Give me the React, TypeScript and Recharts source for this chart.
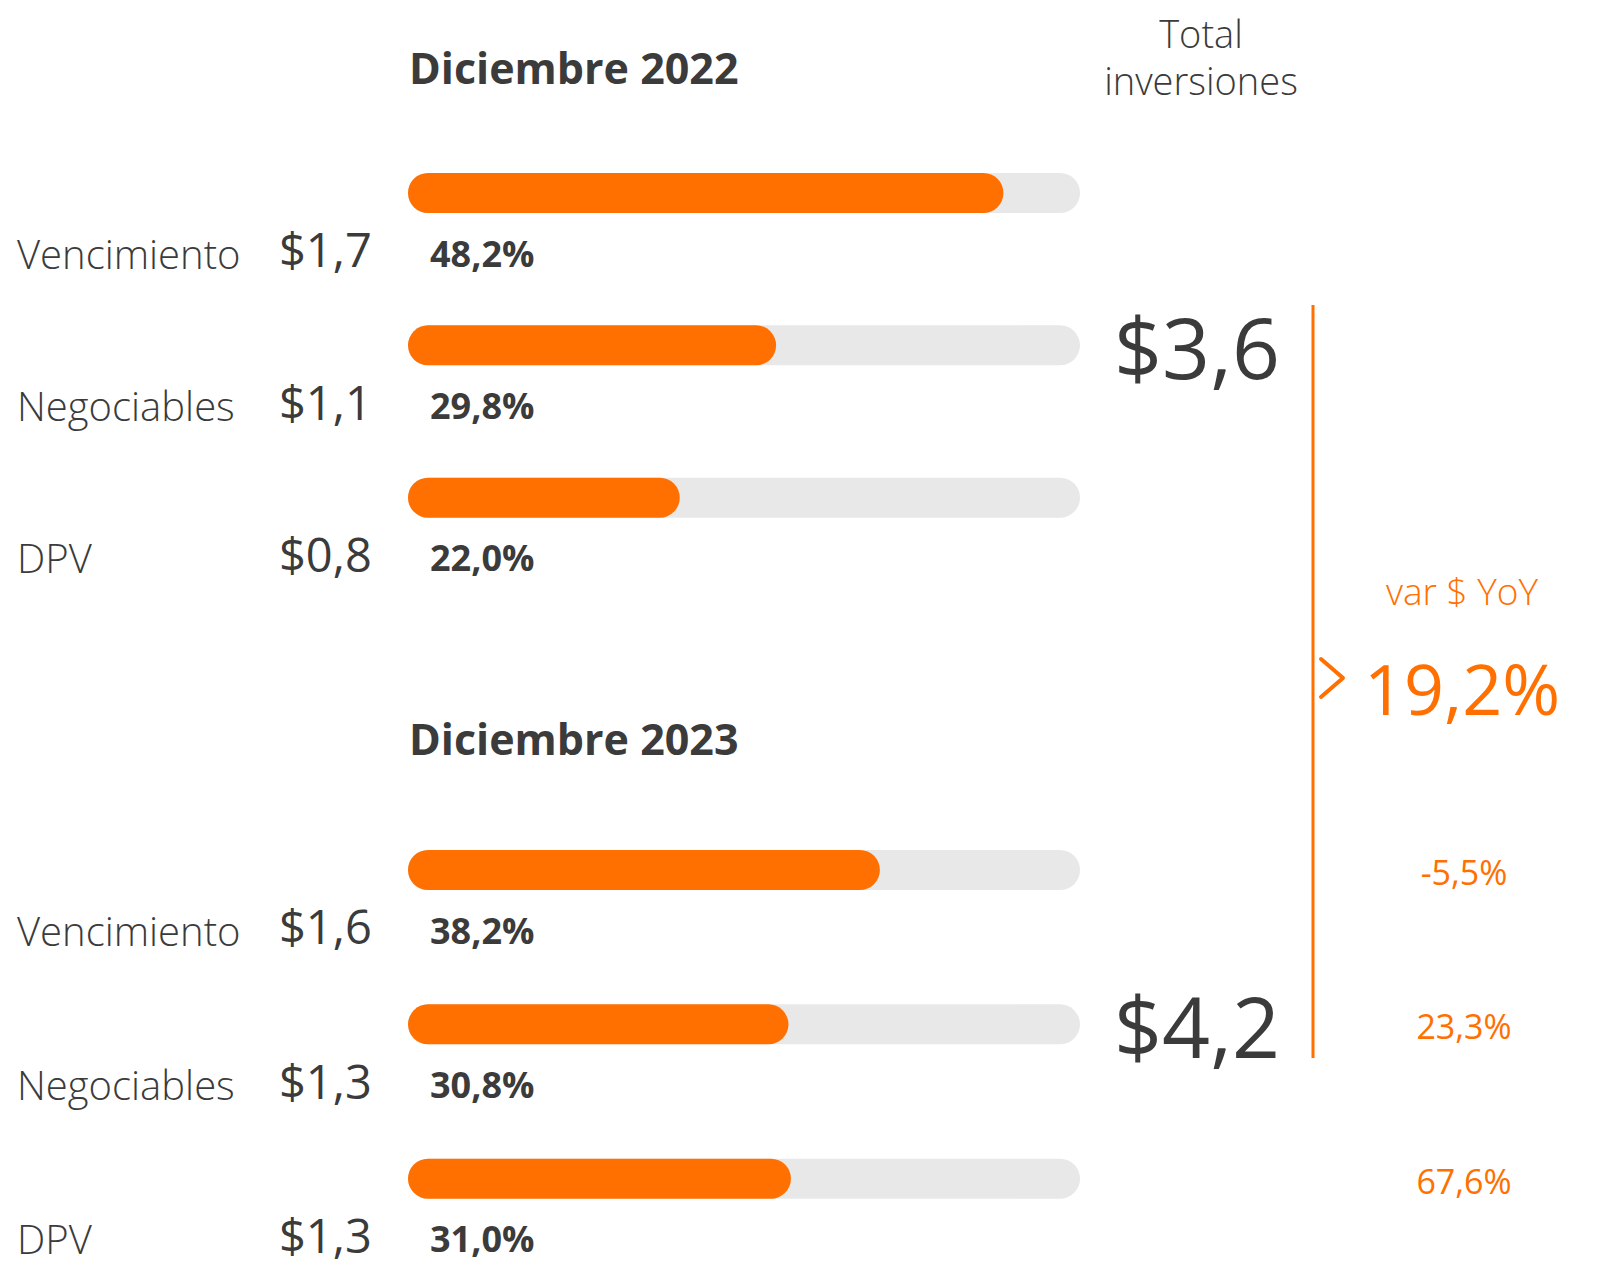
import React from 'react';
import { BarChart, Bar, XAxis, YAxis, LabelList } from 'recharts';

// Investment portfolio composition, December 2022 vs December 2023 (trillions)
const categories = ['Vencimiento', 'Negociables', 'DPV'];
const amounts2022 = [1.7, 1.1, 0.8];
const shares2022 = [48.2, 29.8, 22.0];
const amounts2023 = [1.6, 1.3, 1.3];
const shares2023 = [38.2, 30.8, 31.0];
const yoyByCategory = [-5.5, 23.3, 67.6];
const totals = [3.6, 4.2];
const totalYoy = 19.2;
const periodTitles = ['Diciembre 2022', 'Diciembre 2023'];

const ORANGE = '#FF7000';
const DARK = '#3B3B3B';
const TRACK = '#E8E8E8';
const FONT = '"Open Sans", "Noto Sans", sans-serif';
const SHARE_MAX = 54.4;
const LABEL_DROP = 60;

const fmt = (v: number) => v.toFixed(1).replace('.', ',');

const rows2022 = categories.map((name, i) => ({
  name,
  amount: amounts2022[i],
  share: shares2022[i],
}));
const rows2023 = categories.map((name, i) => ({
  name,
  amount: amounts2023[i],
  share: shares2023[i],
  yoy: yoyByCategory[i],
}));

const CategoryTick = (rows: { name: string; amount: number }[]) => (props: any) => {
  const { y, index } = props;
  const row = rows[index];
  if (!row) return null;
  return (
    <g>
      <text x={17} y={y + LABEL_DROP} dominantBaseline="central" fontFamily={FONT} fontWeight={300} fontSize={40} fill={DARK}>
        {row.name}
      </text>
      <text x={279} y={y + LABEL_DROP - 4} dominantBaseline="central" fontFamily={FONT} fontWeight={400} fontSize={47} fill={DARK}>
        {'$' + fmt(row.amount)}
      </text>
    </g>
  );
};

const ShareLabel = (props: any) => {
  const { x, y, height, value } = props;
  return (
    <text x={x + 22} y={y + height / 2 + LABEL_DROP} dominantBaseline="central" fontFamily={FONT} fontWeight={700} fontSize={36} fill={DARK}>
      {fmt(value) + '%'}
    </text>
  );
};

const YoyLabel = (props: any) => {
  const { y, height, value } = props;
  return (
    <text x={1464} y={y + height / 2 + 2} textAnchor="middle" dominantBaseline="central" fontFamily={FONT} fontWeight={400} fontSize={34} fill={ORANGE}>
      {fmt(value) + '%'}
    </text>
  );
};

function PeriodBars({ rows, height, top, bottom, withYoy }: any) {
  return (
    <BarChart
      width={1603}
      height={height}
      data={rows}
      layout="vertical"
      margin={{ top, right: 523, left: 348, bottom }}
      barCategoryGap={0}
      style={{ overflow: 'visible' }}
    >
      <XAxis type="number" domain={[0, SHARE_MAX]} hide />
      <YAxis
        type="category"
        dataKey="name"
        width={60}
        axisLine={false}
        tickLine={false}
        tick={CategoryTick(rows)}
      />
      <Bar
        dataKey="share"
        fill={ORANGE}
        barSize={40}
        radius={20}
        background={{ fill: TRACK, radius: 20 } as any}
        isAnimationActive={false}
      >
        <LabelList dataKey="share" content={ShareLabel} />
        {withYoy ? <LabelList dataKey="yoy" content={YoyLabel} /> : null}
      </Bar>
    </BarChart>
  );
}

export default function App() {
  return (
    <div style={{ position: 'absolute', left: 0, top: 0, width: 1603, height: 1266, background: '#fff', overflow: 'hidden' }}>
      <svg width={1603} height={1266} style={{ position: 'absolute', left: 0, top: 0 }}>
        <text x={409} y={67} dominantBaseline="central" fontFamily={FONT} fontWeight={700} fontSize={43} fill={DARK}>
          {periodTitles[0]}
        </text>
        <text x={409} y={738} dominantBaseline="central" fontFamily={FONT} fontWeight={700} fontSize={43} fill={DARK}>
          {periodTitles[1]}
        </text>
        <text x={1201} y={33} textAnchor="middle" dominantBaseline="central" fontFamily={FONT} fontWeight={300} fontSize={38} fill={DARK}>
          Total
        </text>
        <text x={1201} y={80} textAnchor="middle" dominantBaseline="central" fontFamily={FONT} fontWeight={300} fontSize={38} fill={DARK}>
          inversiones
        </text>
        <text x={1197} y={346} textAnchor="middle" dominantBaseline="central" fontFamily={FONT} fontWeight={400} fontSize={84} fill={DARK}>
          {'$' + fmt(totals[0])}
        </text>
        <text x={1197} y={1025} textAnchor="middle" dominantBaseline="central" fontFamily={FONT} fontWeight={400} fontSize={84} fill={DARK}>
          {'$' + fmt(totals[1])}
        </text>
        <line x1={1313} y1={305} x2={1313} y2={1058} stroke={ORANGE} strokeWidth={3} />
        <polyline points="1321,659 1343,678 1321,697" fill="none" stroke={ORANGE} strokeWidth={4} strokeLinecap="round" strokeLinejoin="round" />
        <text x={1462} y={590} textAnchor="middle" dominantBaseline="central" fontFamily={FONT} fontWeight={300} fontSize={37} fill={ORANGE}>
          var $ YoY
        </text>
        <text x={1462} y={688} textAnchor="middle" dominantBaseline="central" fontFamily={FONT} fontWeight={400} fontSize={70} fill={ORANGE}>
          {fmt(totalYoy) + '%'}
        </text>
      </svg>
      <div style={{ position: 'absolute', left: 0, top: 0 }}>
        <PeriodBars rows={rows2022} height={620} top={117} bottom={46} withYoy={false} />
      </div>
      <div style={{ position: 'absolute', left: 0, top: 620 }}>
        <PeriodBars rows={rows2023} height={646} top={173} bottom={10} withYoy={true} />
      </div>
    </div>
  );
}
